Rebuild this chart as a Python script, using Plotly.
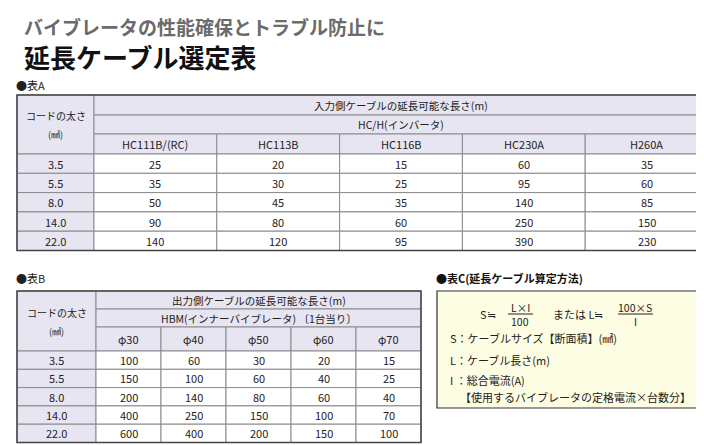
import plotly.graph_objects as go

sizes = ["3.5", "5.5", "8.0", "14.0", "22.0"]
modelsA = ["HC111B/(RC)", "HC113B", "HC116B", "HC230A", "H260A"]
valsA = [[25, 20, 15, 60, 35],
         [35, 30, 25, 95, 60],
         [50, 45, 35, 140, 85],
         [90, 80, 60, 250, 150],
         [140, 120, 95, 390, 230]]
modelsB = ["φ30", "φ40", "φ50", "φ60", "φ70"]
valsB = [[100, 60, 30, 20, 15],
         [150, 100, 60, 40, 25],
         [200, 140, 80, 60, 40],
         [400, 250, 150, 100, 70],
         [600, 400, 200, 150, 100]]

FONT = "Noto Sans CJK JP"
HDR = "#e7e5f1"
LINE = "#8a8a8a"
shapes, ann = [], []

def rect(x0, y0, x1, y1, fill, lc=LINE, w=1):
    shapes.append(dict(type="rect", x0=x0, y0=y0, x1=x1, y1=y1, fillcolor=fill,
                       line=dict(color=lc, width=w), layer="below"))

def txt(x, y, s, size=11, color="#222", anchor="center", bold=False):
    if bold:
        s = "<b>" + s + "</b>"
    ann.append(dict(x=x, y=y, text=s, showarrow=False, xanchor=anchor, yanchor="middle",
                    font=dict(family=FONT, size=size, color=color)))

def table(x0, x1, firstw, ytop, hrows, drow, title1, title2, models, vals):
    cw = (x1 - x0 - firstw) / len(models)
    cx = x0 + firstw
    hb = ytop + sum(hrows)
    rect(x0, ytop, cx, hb, HDR)
    txt((x0 + cx) / 2, ytop + sum(hrows) / 2 - 9, "コードの太さ", 10)
    txt((x0 + cx) / 2, ytop + sum(hrows) / 2 + 10, "(㎟)", 9)
    rect(cx, ytop, x1, ytop + hrows[0], HDR)
    txt((cx + x1) / 2, ytop + hrows[0] / 2, title1, 10.5)
    rect(cx, ytop + hrows[0], x1, ytop + hrows[0] + hrows[1], HDR)
    txt((cx + x1) / 2, ytop + hrows[0] + hrows[1] / 2, title2, 10.5)
    for j, m in enumerate(models):
        rect(cx + j * cw, ytop + hrows[0] + hrows[1], cx + (j + 1) * cw, hb, HDR)
        txt(cx + (j + 0.5) * cw, ytop + hrows[0] + hrows[1] + hrows[2] / 2, m, 11)
    for i, s in enumerate(sizes):
        y0 = hb + i * drow
        rect(x0, y0, cx, y0 + drow, HDR)
        txt((x0 + cx) / 2, y0 + drow / 2, s, 11)
        for j, v in enumerate(vals[i]):
            rect(cx + j * cw, y0, cx + (j + 1) * cw, y0 + drow, "white")
            txt(cx + (j + 0.5) * cw, y0 + drow / 2, str(v), 11)
    shapes.append(dict(type="rect", x0=x0, y0=ytop, x1=x1, y1=hb + len(sizes) * drow,
                       line=dict(color="#444", width=1.5)))

txt(14, 18, "バイブレータの性能確保とトラブル防止に", 19, "#6b6b6b", "left", True)
txt(14, 48, "延長ケーブル選定表", 26, "#111", "left", True)

txt(6, 77, "●表A", 11, "#222", "left")
table(9, 700, 77, 87, [20, 19, 20], 19.3, "入力側ケーブルの延長可能な長さ(m)",
      "HC/H(インバータ)", modelsA, valsA)

txt(6, 270, "●表B", 11, "#222", "left")
table(9, 413, 79, 283, [18, 18, 24], 18.3, "出力側ケーブルの延長可能な長さ(m)",
      "HBM(インナーバイブレータ) 〔1台当り〕", modelsB, valsB)

txt(426, 270, "●表C(延長ケーブル算定方法)", 11, "#111", "left", True)
shapes.append(dict(type="rect", x0=429, y0=283, x1=698, y1=400, fillcolor="#fdfde3",
                   line=dict(color="#333", width=1.2), layer="below"))
txt(470, 306, "S≒", 11, anchor="left")
txt(512, 299, "L×I", 10.5)
shapes.append(dict(type="line", x0=500, x1=525, y0=306, y1=306, line=dict(color="#222", width=1)))
txt(512, 313, "100", 10.5)
txt(543, 306, "または L≒", 11, anchor="left")
txt(627, 299, "100×S", 10.5)
shapes.append(dict(type="line", x0=610, x1=645, y0=306, y1=306, line=dict(color="#222", width=1)))
txt(627, 313, "I", 10.5)
txt(440, 330, "S：ケーブルサイズ【断面積】(㎟)", 11, anchor="left")
txt(440, 352, "L：ケーブル長さ(m)", 11, anchor="left")
txt(440, 372, "I ：総合電流(A)", 11, anchor="left")
txt(450, 389, "【使用するバイブレータの定格電流×台数分】", 11, anchor="left")

fig = go.Figure()
fig.update_layout(width=704, height=445, margin=dict(l=0, r=0, t=0, b=0),
                  paper_bgcolor="white", plot_bgcolor="white",
                  xaxis=dict(range=[0, 704], visible=False, fixedrange=True),
                  yaxis=dict(range=[445, 0], visible=False, fixedrange=True),
                  shapes=shapes, annotations=ann, showlegend=False)
fig.write_html("out.html")
